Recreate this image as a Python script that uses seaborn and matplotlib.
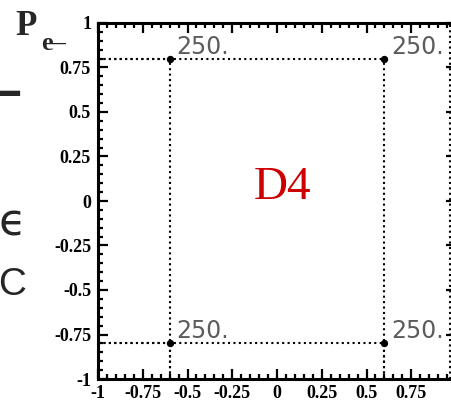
import matplotlib
matplotlib.use("Agg")
import matplotlib.pyplot as plt
import seaborn as sns
import pandas as pd
from matplotlib.ticker import MultipleLocator, FixedLocator, FixedFormatter

# ---- data ----
pol_x = [-0.6, 0.6, -0.6, 0.6]
pol_y = [0.8, 0.8, -0.8, -0.8]
lumi_labels = ["250.", "250.", "250.", "250."]
tick_values = [-1, -0.75, -0.5, -0.25, 0, 0.25, 0.5, 0.75, 1]
x_tick_labels = ["-1", "-0.75", "-0.5", "-0.25", "0", "0.25", "0.5", "0.75", ""]
y_tick_labels = ["-1", "-0.75", "-0.5", "-0.25", "0", "0.25", "0.5", "0.75", "1"]
panel_label = "D4"
title_main = "P"
title_sub = "e–"
edge_line_x = [0.965]
side_fragments = ["—", "ϵ", "SC"]

df = pd.DataFrame({"x": pol_x, "y": pol_y, "lab": lumi_labels})

sns.set_theme(style="white")
plt.rcParams["axes.unicode_minus"] = False
plt.rcParams["font.family"] = ["DejaVu Sans"]

fig = plt.figure(figsize=(4.51, 4.11), dpi=100)
W, H = 451.0, 411.0
ax = fig.add_axes([98 / W, 1 - 379 / H, 358 / W, 356 / H])

ax.set_xlim(-1, 1)
ax.set_ylim(-1, 1)

dot = (0, (1, 1.6))
x0, y0 = ax.get_xlim()[0], ax.get_ylim()[0]
for x, y in zip(pol_x, pol_y):
    ax.plot([x0, x], [y, y], color="black", lw=1.5, ls=dot, zorder=2)
    ax.plot([x, x], [y0, y], color="black", lw=1.5, ls=dot, zorder=2)
for xv in edge_line_x:
    ax.axvline(xv, color="black", lw=1.5, ls=dot, zorder=2)

sns.scatterplot(data=df, x="x", y="y", ax=ax, color="black", s=28,
                edgecolor="black", linewidth=0, zorder=3, legend=False)

for x, y, lab in zip(pol_x, pol_y, lumi_labels):
    ax.annotate(lab, (x, y), xytext=(5, 3.6), textcoords="offset points",
                ha="left", va="baseline", fontsize=17, color="#5c5c5c",
                family="DejaVu Sans")

ax.text(0.03, 0.01, panel_label, color="#cc0000", fontsize=34,
        family="Liberation Serif", ha="center", va="baseline")

ax.set_xlabel("")
ax.set_ylabel("")
for sp in ax.spines.values():
    sp.set_visible(True)
    sp.set_linewidth(2.2)
    sp.set_color("black")

ax.xaxis.set_major_locator(FixedLocator(tick_values))
ax.yaxis.set_major_locator(FixedLocator(tick_values))
ax.xaxis.set_major_formatter(FixedFormatter(x_tick_labels))
ax.yaxis.set_major_formatter(FixedFormatter(y_tick_labels))
ax.xaxis.set_minor_locator(MultipleLocator(0.05))
ax.yaxis.set_minor_locator(MultipleLocator(0.05))
ax.tick_params(which="both", direction="in", top=True, right=True,
               bottom=True, left=True, color="black", width=1.6)
ax.tick_params(which="major", length=7.5)
ax.tick_params(which="minor", length=3.8)
ax.tick_params(axis="x", which="major", pad=4)
ax.tick_params(axis="y", which="major", pad=5)
for lbl in ax.get_xticklabels() + ax.get_yticklabels():
    lbl.set_family("Liberation Serif")
    lbl.set_fontweight("bold")
    lbl.set_fontsize(13)
    lbl.set_color("black")

fig.text(15 / W, 1 - 35 / H, title_main, family="Liberation Serif",
         fontweight="bold", fontsize=25, ha="left", va="baseline")
fig.text(41 / W, 1 - 50 / H, title_sub, family="Liberation Serif",
         fontweight="bold", fontsize=19, ha="left", va="baseline")

fig.text(23 / W, 1 - 113 / H, side_fragments[0], family="DejaVu Sans",
         fontsize=50, ha="right", va="baseline")
fig.text(26 / W, 1 - 235 / H, side_fragments[1],
         family=["DejaVu Sans"], fontsize=32, ha="right", va="baseline")
fig.text(27 / W, 1 - 295 / H, side_fragments[2],
         family=["Liberation Sans Narrow", "Liberation Sans", "DejaVu Sans"],
         fontsize=28, ha="right", va="baseline")

fig.savefig("out.png", dpi=100)
